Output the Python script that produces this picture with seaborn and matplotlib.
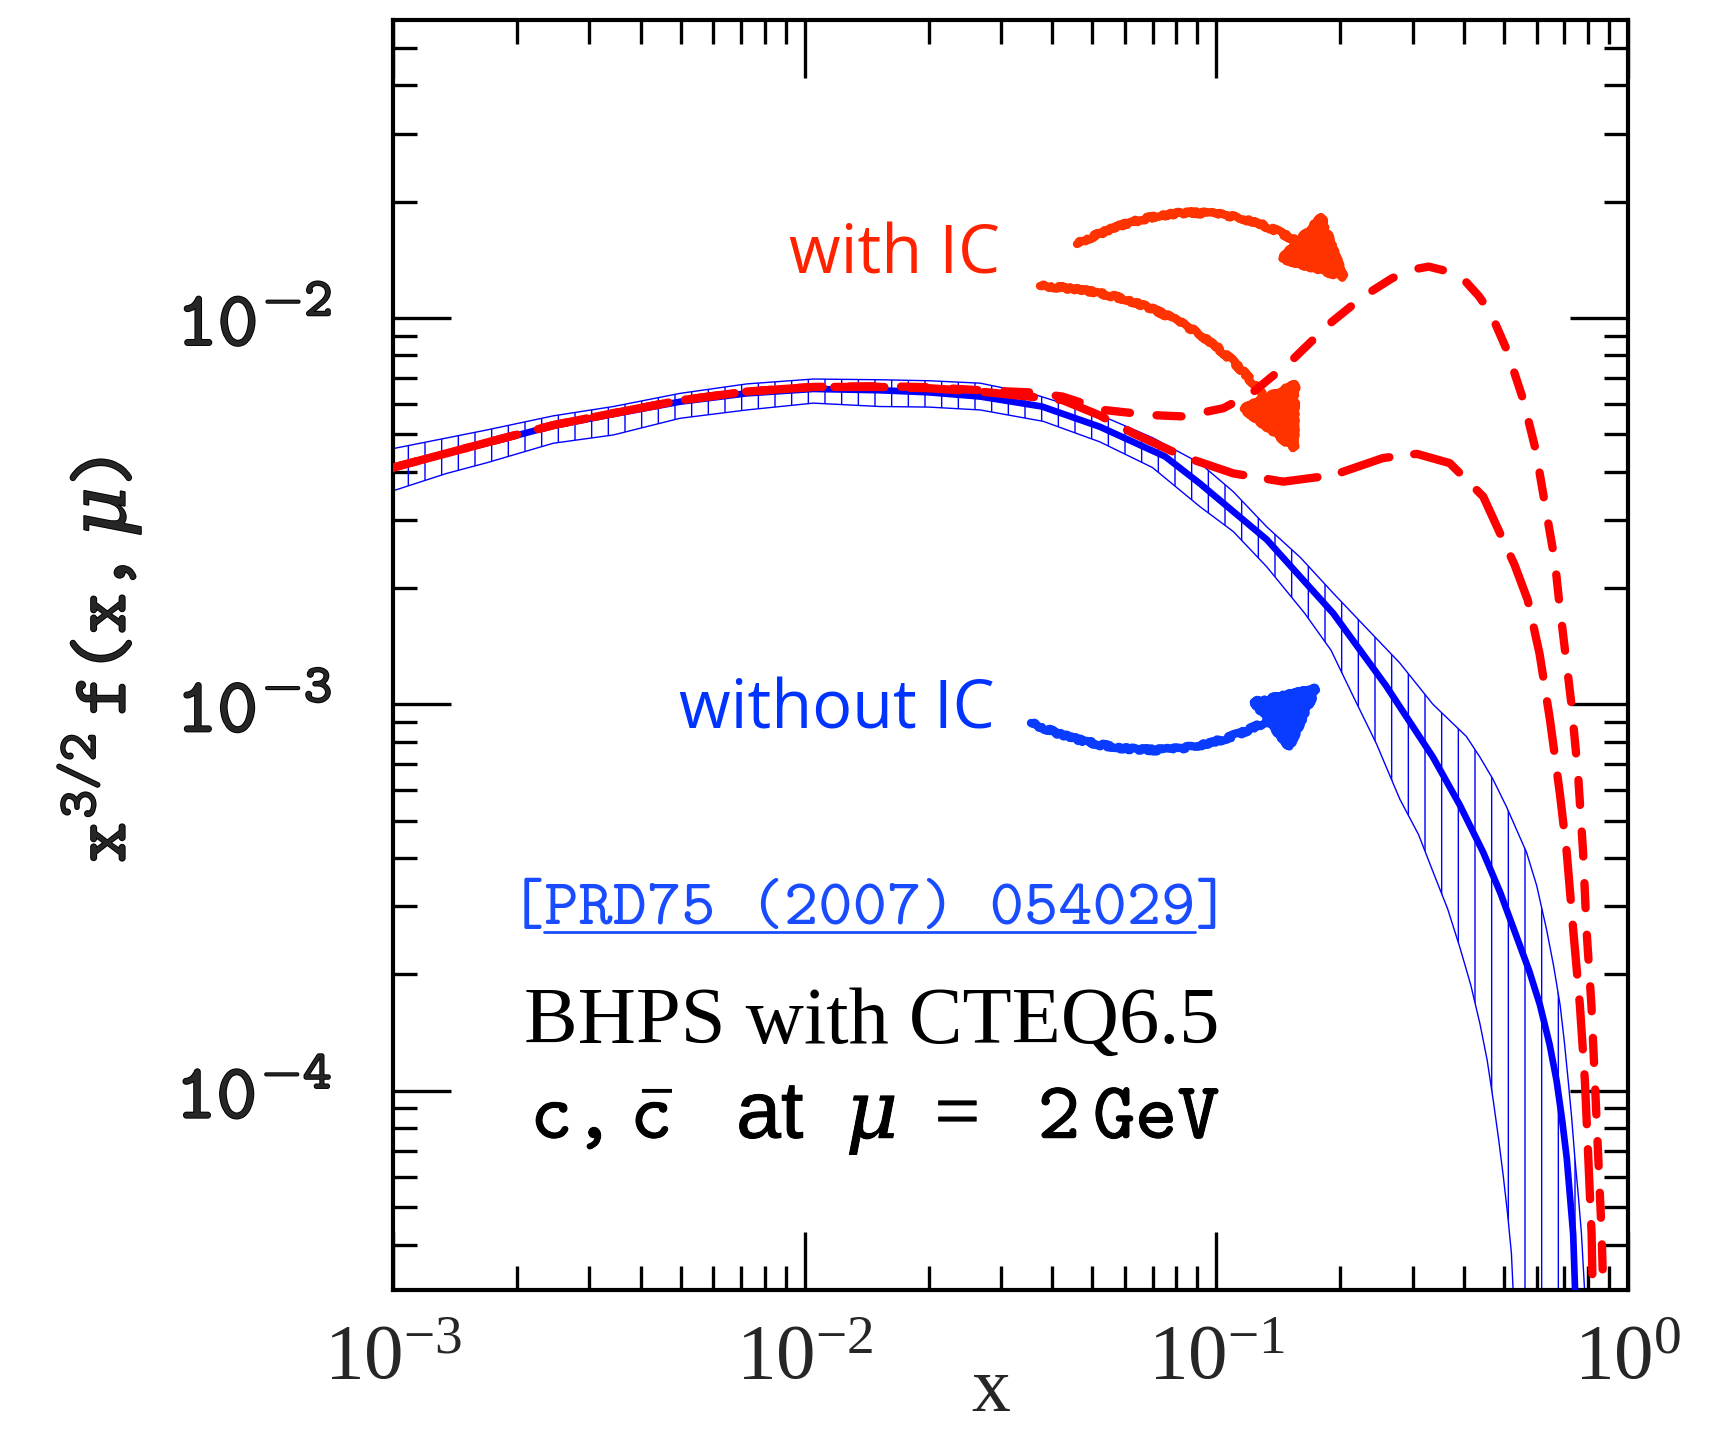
import numpy as np
import matplotlib
matplotlib.use("Agg")
import matplotlib.pyplot as plt
import matplotlib.patheffects as pe
import seaborn as sns
from matplotlib.lines import Line2D

# central CTEQ6.5 charm curve (no intrinsic charm)
x_central = [0.001, 0.00135, 0.00169, 0.00245, 0.00343, 0.00498, 0.00723, 0.0105,
             0.0152, 0.020, 0.0267, 0.0377, 0.0521, 0.0751, 0.0912, 0.1326, 0.1923, 0.258,
             0.336, 0.39, 0.445, 0.49, 0.536, 0.575, 0.611, 0.645, 0.671, 0.692, 0.710,
             0.736, 0.746]
y_central = [4.10e-3, 4.47e-3, 4.74e-3, 5.26e-3, 5.64e-3, 6.07e-3, 6.38e-3, 6.55e-3,
             6.50e-3, 6.42e-3, 6.26e-3, 5.90e-3, 5.23e-3, 4.38e-3, 3.73e-3, 2.67e-3, 1.72e-3, 1.12e-3,
             7.3e-4, 5.5e-4, 4.14e-4, 3.25e-4, 2.51e-4, 2.05e-4, 1.67e-4, 1.32e-4, 1.06e-4, 8.4e-5, 6.7e-5,
             4.26e-5, 2.8e-5]

# uncertainty band edges
x_band_hi = [0.001, 0.00169, 0.00245, 0.00343, 0.00498, 0.00723, 0.0105, 0.0152, 0.020,
             0.0267, 0.036, 0.0521, 0.07, 0.0912, 0.11, 0.1326, 0.16, 0.1923, 0.235, 0.279,
             0.336, 0.405, 0.437, 0.47, 0.507, 0.567, 0.60, 0.634, 0.66, 0.684, 0.70, 0.716,
             0.73, 0.743, 0.757, 0.771, 0.788]
y_band_hi = [4.59e-3, 5.13e-3, 5.58e-3, 5.90e-3, 6.38e-3, 6.75e-3, 6.95e-3, 6.92e-3, 6.88e-3,
             6.78e-3, 6.35e-3, 5.61e-3, 4.90e-3, 4.21e-3, 3.55e-3, 2.88e-3, 2.40e-3, 1.94e-3, 1.55e-3, 1.28e-3,
             1.0e-3, 8.26e-4, 7.3e-4, 6.4e-4, 5.43e-4, 4.14e-4, 3.4e-4, 2.62e-4, 2.1e-4, 1.67e-4, 1.35e-4, 1.06e-4,
             8.5e-5, 6.7e-5, 5.4e-5, 4.26e-5, 2.8e-5]
x_band_lo = [0.001, 0.00135, 0.00169, 0.00245, 0.00343, 0.00498, 0.00723, 0.0105, 0.0152,
             0.020, 0.0267, 0.038, 0.0521, 0.07, 0.0912, 0.11, 0.1326, 0.164, 0.19, 0.215,
             0.245, 0.279, 0.31, 0.336, 0.365, 0.391, 0.415, 0.437, 0.455, 0.471, 0.485,
             0.498, 0.51, 0.521, 0.528]
y_band_lo = [3.57e-3, 3.96e-3, 4.22e-3, 4.74e-3, 4.98e-3, 5.50e-3, 5.78e-3, 6.02e-3, 5.90e-3,
             5.88e-3, 5.78e-3, 5.40e-3, 4.78e-3, 4.10e-3, 3.25e-3, 2.80e-3, 2.27e-3, 1.72e-3, 1.38e-3, 1.05e-3,
             7.9e-4, 5.69e-4, 4.6e-4, 3.69e-4, 2.95e-4, 2.34e-4, 1.88e-4, 1.49e-4, 1.2e-4, 9.4e-5, 7.5e-5,
             6.0e-5, 4.8e-5, 3.8e-5, 2.8e-5]

# BHPS intrinsic charm, smaller normalisation (long dashes)
x_ic_low = [0.001, 0.00169, 0.00245, 0.00343, 0.00498, 0.00723, 0.0105, 0.0152, 0.020, 0.0267,
            0.0423, 0.052, 0.0628, 0.0832, 0.110, 0.1455, 0.1923, 0.254, 0.307, 0.369, 0.445,
            0.489, 0.53, 0.571, 0.61, 0.646, 0.665, 0.684, 0.710, 0.736, 0.764, 0.786, 0.801,
            0.816, 0.822]
y_ic_low = [4.10e-3, 4.76e-3, 5.28e-3, 5.67e-3, 6.12e-3, 6.45e-3, 6.63e-3, 6.63e-3, 6.58e-3, 6.45e-3,
            6.13e-3, 5.60e-3, 5.03e-3, 4.38e-3, 3.96e-3, 3.77e-3, 3.92e-3, 4.34e-3, 4.45e-3, 4.21e-3, 3.45e-3,
            2.77e-3, 2.30e-3, 1.86e-3, 1.35e-3, 9.17e-4, 7.3e-4, 5.82e-4, 4.14e-4, 2.62e-4, 1.67e-4, 1.06e-4,
            6.7e-5, 4.26e-5, 2.8e-5]

# BHPS intrinsic charm, larger normalisation (short dashes)
x_ic_high = [0.001, 0.00169, 0.00245, 0.00343, 0.00498, 0.00723, 0.0105, 0.0152, 0.020, 0.0267,
             0.035, 0.0423, 0.0532, 0.0687, 0.0832, 0.104, 0.122, 0.153, 0.189, 0.227, 0.267,
             0.295, 0.328, 0.365, 0.404, 0.434, 0.464, 0.508, 0.557, 0.597, 0.626, 0.664, 0.68,
             0.729, 0.757, 0.778, 0.793, 0.815, 0.831, 0.847, 0.863, 0.873]
y_ic_high = [4.10e-3, 4.76e-3, 5.28e-3, 5.67e-3, 6.12e-3, 6.45e-3, 6.63e-3, 6.66e-3, 6.62e-3, 6.50e-3,
             6.42e-3, 6.26e-3, 5.78e-3, 5.61e-3, 5.56e-3, 5.84e-3, 6.39e-3, 7.79e-3, 9.69e-3, 1.135e-2, 1.266e-2,
             1.33e-2, 1.358e-2, 1.32e-2, 1.24e-2, 1.14e-2, 1.03e-2, 8.26e-3, 6.13e-3, 4.55e-3, 3.38e-3, 2.36e-3,
             1.86e-3, 1.0e-3, 6.52e-4, 4.14e-4, 2.62e-4, 1.67e-4, 1.06e-4, 6.7e-5, 4.26e-5, 2.8e-5]

x_ticks = [1e-3, 1e-2, 1e-1, 1.0]
x_tick_labels = [r"$\mathrm{10^{-3}}$", r"$\mathrm{10^{-2}}$", r"$\mathrm{10^{-1}}$", r"$\mathrm{10^{0}}$"]
y_ticks = [1e-4, 1e-3, 1e-2]
y_tick_labels = [r"$\mathtt{10^{-4}}$", r"$\mathtt{10^{-3}}$", r"$\mathtt{10^{-2}}$"]

sns.set_theme(style="ticks")
plt.rcParams["font.family"] = ["Liberation Serif", "DejaVu Sans"]
plt.rcParams["mathtext.fontset"] = "custom"
plt.rcParams["mathtext.rm"] = "Liberation Serif"
plt.rcParams["mathtext.tt"] = "cmtt10"
plt.rcParams["mathtext.it"] = "DejaVu Serif:italic"
plt.rcParams["mathtext.sf"] = "Liberation Sans"
plt.rcParams["hatch.linewidth"] = 1.0
plt.rcParams["hatch.color"] = "#0000ff"

fig = plt.figure(figsize=(17.26, 14.35), dpi=100)
ax = fig.add_axes([0.2277, 0.1010, 0.7155, 0.885])
ax.set_xscale("log")
ax.set_yscale("log")

blue = "#0000ff"
red = "#ff0000"
bold = [pe.withStroke(linewidth=1.4, foreground="black")]
semibold = [pe.withStroke(linewidth=0.7, foreground="black")]

# hatched uncertainty band
poly_x = np.concatenate([x_band_hi, x_band_lo[::-1]])
poly_y = np.concatenate([y_band_hi, y_band_lo[::-1]])
ax.fill(poly_x, poly_y, facecolor="none", edgecolor=blue, hatch="|", linewidth=0, zorder=1)
sns.lineplot(x=x_band_hi, y=y_band_hi, ax=ax, color=blue, linewidth=1.0, sort=False, estimator=None, zorder=2)
sns.lineplot(x=x_band_lo, y=y_band_lo, ax=ax, color=blue, linewidth=1.0, sort=False, estimator=None, zorder=2)

sns.lineplot(x=x_central, y=y_central, ax=ax, color=blue, linewidth=4.8, sort=False, estimator=None, zorder=3)
sns.lineplot(x=x_ic_low, y=y_ic_low, ax=ax, color=red, linewidth=6, sort=False, estimator=None,
             linestyle=(0, (6.0, 3.0)), dash_capstyle="round", zorder=4)
sns.lineplot(x=x_ic_high, y=y_ic_high, ax=ax, color=red, linewidth=6, sort=False, estimator=None,
             linestyle=(0, (3.0, 3.2)), dash_capstyle="round", zorder=4)

ax.set_xlim(1e-3, 1.0)
ax.set_ylim(3.05e-5, 5.9e-2)

for s in ax.spines.values():
    s.set_linewidth(3)
    s.set_color("black")
ax.tick_params(which="both", direction="in", top=True, right=True, color="black")
ax.tick_params(which="major", length=42, width=2.4)
ax.tick_params(which="minor", length=17, width=2.4)
ax.set_xticks(x_ticks)
ax.set_xticklabels(x_tick_labels, fontsize=57)
ax.set_yticks(y_ticks)
ax.set_yticklabels(y_tick_labels, fontsize=56)
for t in ax.get_yticklabels():
    t.set_path_effects(bold)
ax.tick_params(axis="x", which="major", pad=24)
ax.tick_params(axis="y", which="major", pad=44)
ax.xaxis.set_minor_locator(matplotlib.ticker.LogLocator(base=10, subs=np.arange(2, 10), numticks=20))
ax.yaxis.set_minor_locator(matplotlib.ticker.LogLocator(base=10, subs=np.arange(2, 10), numticks=20))
ax.xaxis.set_minor_formatter(matplotlib.ticker.NullFormatter())
ax.yaxis.set_minor_formatter(matplotlib.ticker.NullFormatter())

ax.set_xlabel("x", fontsize=56, family="Liberation Serif")
ax.xaxis.set_label_coords(0.484, -0.095)
ax.xaxis.label.set_va("baseline")
ax.set_ylabel(r"$\mathtt{x^{3/2}\,f(x,}\mu\mathtt{)}$", fontsize=56)
ax.yaxis.set_label_coords(-0.238, 0.496)
ax.yaxis.label.set_va("center")
ax.yaxis.label.set_path_effects(bold)

# annotations
fig.text(0.518, 0.822, "with IC", color="#ff2200", fontsize=48, family="Open Sans",
         ha="center", va="center")
fig.text(0.485, 0.505, "without IC", color="#0033ff", fontsize=48, family="Open Sans",
         ha="center", va="center")
link = fig.text(0.504, 0.365, "[PRD75 (2007) 054029]", color="#1a4cff", fontsize=47,
                family="cmtt10", ha="center", va="center")
fig.text(0.505, 0.2865, "BHPS with CTEQ6.5", color="black", fontsize=58,
         family="Liberation Serif", ha="center", va="center")
fig.text(0.507, 0.2195,
         r"$\mathtt{c,\bar{c}}\;\;\;\mathsf{at}\;\;\mu\;=\;\;\mathtt{2\,GeV}$",
         color="black", fontsize=58, ha="center", va="center", path_effects=semibold)

W, H = 1726.0, 1435.0


def frac(px, py):
    return (px / W, 1 - py / H)


arrows = [
    ((1077, 244), (1350, 283), -0.35, "#ff3300"),
    ((1040, 286), (1298, 456), -0.3, "#ff3300"),
    ((1031, 723), (1323, 683), 0.3, "#0a3cff"),
]
for start, tip, rad, col in arrows:
    ann = ax.annotate("", xy=frac(*tip), xytext=frac(*start),
                      xycoords="figure fraction", textcoords="figure fraction",
                      arrowprops=dict(arrowstyle="-|>,head_length=3.4,head_width=1.7",
                                      connectionstyle=f"arc3,rad={rad}",
                                      color=col, linewidth=6, shrinkA=0, shrinkB=0))
    ann.arrow_patch.set_sketch_params(scale=1.5, length=12, randomness=30)

# underline of the reference
fig.canvas.draw()
bb = link.get_window_extent(fig.canvas.get_renderer())
cw = bb.width / 21.0
uy = bb.y0 + 0.12 * bb.height
fig.add_artist(Line2D([(bb.x0 + cw) / W, (bb.x1 - cw) / W], [uy / H, uy / H],
                      color="#1a4cff", linewidth=2))

fig.savefig("out.png", dpi=100)
